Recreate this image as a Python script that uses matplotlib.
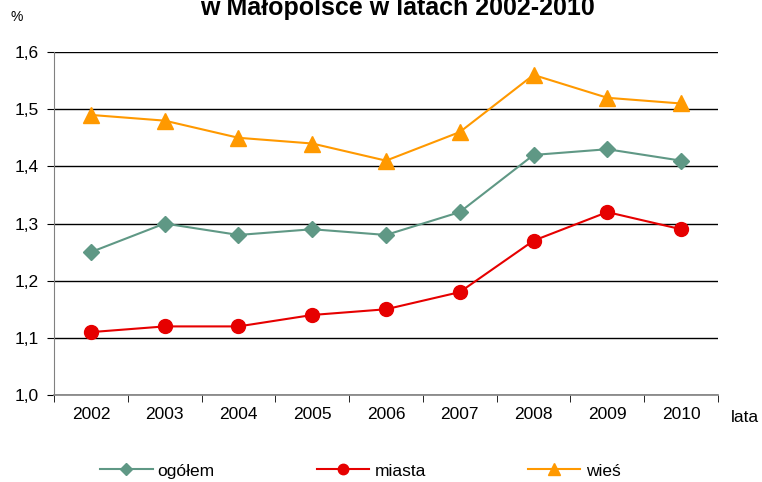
import numpy as np
import matplotlib.pyplot as plt
from matplotlib.ticker import FuncFormatter, FixedLocator

plt.rcParams['font.family'] = ['Liberation Sans', 'DejaVu Sans']
plt.rcParams['font.size'] = 12.5

years = ["2002", "2003", "2004", "2005", "2006", "2007", "2008", "2009", "2010"]
ogolem = [1.25, 1.30, 1.28, 1.29, 1.28, 1.32, 1.42, 1.43, 1.41]
miasta = [1.11, 1.12, 1.12, 1.14, 1.15, 1.18, 1.27, 1.32, 1.29]
wies = [1.49, 1.48, 1.45, 1.44, 1.41, 1.46, 1.56, 1.52, 1.51]

GREEN = "#5F9885"
RED = "#E60000"
ORANGE = "#FF9900"

fig = plt.figure(figsize=(7.62, 4.82), dpi=100)
ax = fig.add_axes([0.0709, 0.1805, 0.8713, 0.7115])

x = np.arange(len(years))
ax.plot(x, ogolem, color=GREEN, marker="D", markersize=8, linewidth=1.5, label="ogółem", zorder=3)
ax.plot(x, miasta, color=RED, marker="o", markersize=10, linewidth=1.5, label="miasta", zorder=3)
ax.plot(x, wies, color=ORANGE, marker="^", markersize=12, linewidth=1.5, label="wieś", zorder=3)

ax.set_xlim(-0.5, len(years) - 0.5)
ax.set_ylim(1.0, 1.6)
ax.set_yticks(np.arange(1.0, 1.61, 0.1))
ax.yaxis.set_major_formatter(FuncFormatter(lambda v, p: f"{v:.1f}".replace(".", ",")))
ax.set_xticks(x)
ax.set_xticklabels(years)
ax.xaxis.set_minor_locator(FixedLocator(np.arange(-0.5, len(years), 1.0)))
ax.tick_params(axis="x", which="major", length=0, pad=9)
ax.tick_params(axis="x", which="minor", length=5, color="black")
ax.tick_params(axis="y", length=5, pad=6, direction="out")

ax.grid(axis="y", color="black", linewidth=1.0, zorder=0)
for s in ["top", "right"]:
    ax.spines[s].set_visible(False)
ax.spines["left"].set_color("#808080")
ax.spines["bottom"].set_color("#808080")
ax.spines["bottom"].set_linewidth(1.2)

fig.text(0.521, 1 - 15 / 482, "w Małopolsce w latach 2002-2010", ha="center", va="baseline",
         fontsize=18, fontweight="bold")
fig.text(0.022, 1 - 17 / 482, "%", ha="center", va="center", fontsize=10)
fig.text(0.977, 1 - 418 / 482, "lata", ha="center", va="center", fontsize=12.5)

fig.legend(loc="center", bbox_to_anchor=(0.473, 1 - 471 / 482), ncol=3, frameon=False,
           handlelength=3.0, columnspacing=5.9, handletextpad=0.3, markerscale=0.75,
           fontsize=12.5, borderpad=0)

fig.savefig("out.png", dpi=100, facecolor="white")
